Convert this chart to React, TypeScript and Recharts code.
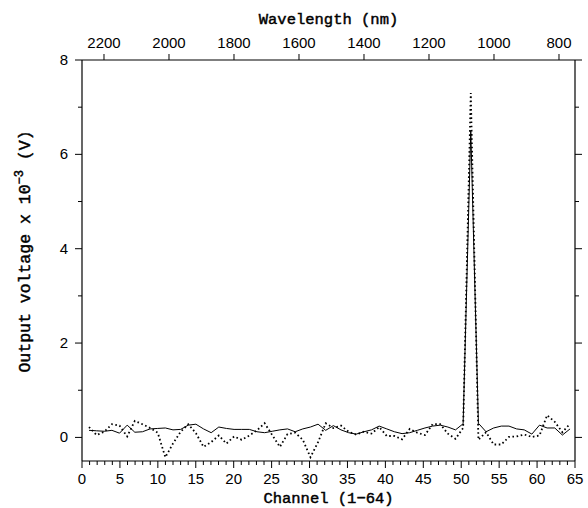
import React from 'react';
import { LineChart, Line, XAxis, YAxis } from 'recharts';

const channels = [
  1, 2, 3, 4, 5, 6, 7, 8, 9, 10, 11, 12, 13, 14, 15, 16,
  17, 18, 19, 20, 21, 22, 23, 24, 25, 26, 27, 28, 29, 30, 31, 32,
  33, 34, 35, 36, 37, 38, 39, 40, 41, 42, 43, 44, 45, 46, 47, 48,
  49, 50, 51, 52, 53, 54, 55, 56, 57, 58, 59, 60, 61, 62, 63, 64,
];

const solidSeries = [
  0.15, 0.14, 0.13, 0.15, 0.09, 0.26, 0.11, 0.12, 0.18, 0.19, 0.2, 0.16, 0.17, 0.26, 0.28, 0.18,
  0.1, 0.22, 0.19, 0.17, 0.17, 0.17, 0.12, 0.1, 0.13, 0.16, 0.18, 0.12, 0.18, 0.22, 0.28, 0.15,
  0.25, 0.16, 0.1, 0.07, 0.12, 0.16, 0.24, 0.18, 0.12, 0.08, 0.1, 0.15, 0.2, 0.24, 0.26, 0.22,
  0.16, 0.29, 6.5, 0.3, 0.12, 0.2, 0.24, 0.24, 0.18, 0.16, 0.07, 0.26, 0.2, 0.2, 0.05, 0.18,
];

const dottedSeries = [
  0.22, 0.05, 0.12, 0.28, 0.25, 0.02, 0.35, 0.28, 0.2, 0.1, -0.42, -0.13, 0.12, 0.28, 0.09, -0.2,
  -0.1, 0.04, -0.13, 0.02, -0.05, 0.04, 0.15, 0.3, 0.05, -0.2, 0.07, 0.1, -0.05, -0.42, -0.1, 0.3,
  0.2, 0.25, 0.12, 0.06, 0.12, 0.08, 0.22, 0.03, 0.03, -0.04, 0.18, 0.1, 0.05, 0.28, 0.28, 0.08,
  -0.03, 0.2, 7.3, -0.05, 0.11, -0.15, -0.15, 0.01, 0.02, 0.06, 0.01, 0.04, 0.47, 0.33, 0.11, 0.29,
];

const channelMajorTicks = [0, 5, 10, 15, 20, 25, 30, 35, 40, 45, 50, 55, 60, 65];
const channelAllTicks = Array.from({ length: 66 }, (_, i) => i);
const wavelengthLabels = ['2200', '2000', '1800', '1600', '1400', '1200', '1000', '800'];
const wavelengthTickChannels = [2.9, 11.47, 20.04, 28.61, 37.18, 45.75, 54.32, 62.89];
const voltageMajorTicks = [0, 2, 4, 6, 8];
const voltageAllTicks = [0, 1, 2, 3, 4, 5, 6, 7, 8];

const data = channels.map((ch, i) => ({ ch, solid: solidSeries[i], dotted: dottedSeries[i] }));

const TICK_FONT = 'Liberation Sans, Arial, sans-serif';
const TITLE_FONT = 'Liberation Mono, Courier New, monospace';

const BottomTick = (props: any) => {
  const { x, y, payload } = props;
  const major = channelMajorTicks.includes(payload.value);
  return (
    <g>
      <line x1={x} x2={x} y1={y} y2={y + (major ? 7 : 4)} stroke="#000" strokeWidth={1} />
      {major && (
        <text x={x} y={y + 23} textAnchor="middle" fontFamily={TICK_FONT} fontSize={15} fill="#000">
          {payload.value}
        </text>
      )}
    </g>
  );
};

const TopTick = (props: any) => {
  const { x, y, payload } = props;
  const idx = wavelengthTickChannels.indexOf(payload.value);
  return (
    <g>
      <line x1={x} x2={x} y1={y} y2={y - 6} stroke="#000" strokeWidth={1} />
      <text x={x} y={y - 12} textAnchor="middle" fontFamily={TICK_FONT} fontSize={15} fill="#000">
        {wavelengthLabels[idx]}
      </text>
    </g>
  );
};

const LeftTick = (props: any) => {
  const { x, y, payload } = props;
  const major = voltageMajorTicks.includes(payload.value);
  return (
    <g>
      <line x1={x} x2={x - (major ? 7 : 4)} y1={y} y2={y} stroke="#000" strokeWidth={1} />
      {major && (
        <text x={x - 14} y={y + 5} textAnchor="end" fontFamily={TICK_FONT} fontSize={15} fill="#000">
          {payload.value}
        </text>
      )}
    </g>
  );
};

const RightTick = (props: any) => {
  const { x, y, payload } = props;
  const major = voltageMajorTicks.includes(payload.value);
  return <line x1={x} x2={x + (major ? 7 : 4)} y1={y} y2={y} stroke="#000" strokeWidth={1} />;
};

const titleStyle = {
  fontFamily: TITLE_FONT,
  fontSize: 15.5,
  fill: '#000',
  stroke: '#000',
  strokeWidth: 0.45,
};

const TopTitle = (props: any) => {
  const { viewBox } = props;
  return (
    <text x={viewBox.x + viewBox.width / 2} y={24} textAnchor="middle" style={titleStyle}>
      Wavelength (nm)
    </text>
  );
};

const BottomTitle = (props: any) => {
  const { viewBox } = props;
  return (
    <text x={viewBox.x + viewBox.width / 2} y={viewBox.y + 42} textAnchor="middle" style={titleStyle}>
      Channel (1−64)
    </text>
  );
};

const LeftTitle = (props: any) => {
  const { viewBox } = props;
  const cx = 30;
  const cy = viewBox.y + viewBox.height / 2 - 9;
  return (
    <text transform={`translate(${cx},${cy}) rotate(-90)`} textAnchor="middle" style={{ ...titleStyle, fontSize: 16.5 }}>
      <tspan>Output voltage x 10</tspan>
      <tspan dy={-7} fontSize={12}>−3</tspan>
      <tspan dy={7}> (V)</tspan>
    </text>
  );
};

export default function App() {
  return (
    <div style={{ position: 'absolute', left: 0, top: 0, background: '#fff' }}>
      <LineChart width={588} height={508} data={data} margin={{ top: 0, right: 0, bottom: 0, left: 22 }}>
        <XAxis xAxisId="data" dataKey="ch" type="number" domain={[0.083, 64.65]} allowDataOverflow hide />
        <XAxis
          xAxisId="bottom"
          dataKey="ch"
          orientation="bottom"
          type="number"
          domain={[0, 65]}
          allowDataOverflow
          ticks={channelAllTicks}
          interval={0}
          height={47}
          tickSize={0}
          tickMargin={0}
          tickLine={false}
          tick={(p: any) => <BottomTick {...p} />}
          axisLine={{ stroke: '#000', strokeWidth: 1.2 }}
          label={(p: any) => <BottomTitle {...p} />}
        />
        <XAxis
          xAxisId="top"
          dataKey="ch"
          orientation="top"
          type="number"
          domain={[0, 65]}
          allowDataOverflow
          ticks={wavelengthTickChannels}
          interval={0}
          height={60}
          tickSize={0}
          tickMargin={0}
          tickLine={false}
          tick={(p: any) => <TopTick {...p} />}
          axisLine={{ stroke: '#000', strokeWidth: 1.2 }}
          label={(p: any) => <TopTitle {...p} />}
        />
        <YAxis
          yAxisId="left"
          type="number"
          domain={[-0.5, 8]}
          allowDataOverflow
          ticks={voltageAllTicks}
          interval={0}
          width={60}
          tickSize={0}
          tickMargin={0}
          tickLine={false}
          tick={(p: any) => <LeftTick {...p} />}
          axisLine={{ stroke: '#000', strokeWidth: 1.2 }}
          label={(p: any) => <LeftTitle {...p} />}
        />
        <YAxis
          yAxisId="right"
          orientation="right"
          type="number"
          domain={[-0.5, 8]}
          allowDataOverflow
          ticks={voltageAllTicks}
          interval={0}
          width={13}
          tickSize={0}
          tickMargin={0}
          tickLine={false}
          tick={(p: any) => <RightTick {...p} />}
          axisLine={{ stroke: '#000', strokeWidth: 1.2 }}
        />
        <Line
          xAxisId="data"
          yAxisId="left"
          type="linear"
          dataKey="solid"
          stroke="#000"
          strokeWidth={1}
          dot={false}
          isAnimationActive={false}
        />
        <Line
          xAxisId="data"
          yAxisId="left"
          type="linear"
          dataKey="dotted"
          stroke="#000"
          strokeWidth={1.8}
          strokeDasharray="1.6 2.6"
          dot={false}
          isAnimationActive={false}
        />
      </LineChart>
    </div>
  );
}
